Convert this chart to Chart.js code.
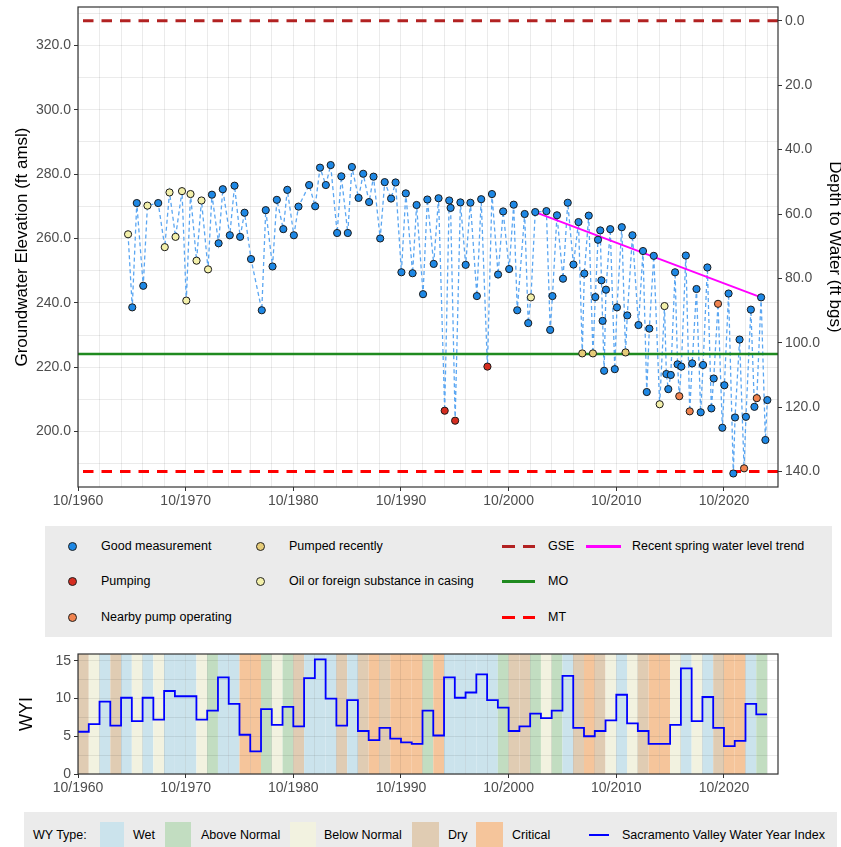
<!DOCTYPE html>
<html><head><meta charset="utf-8">
<script src="https://cdn.jsdelivr.net/npm/chart.js@4.4.1/dist/chart.umd.min.js"></script>
<style>
html,body{margin:0;padding:0;background:#fff;}
#wrap{position:relative;width:841px;height:847px;overflow:hidden;font-family:"Liberation Sans",Arial,Helvetica,sans-serif;color:#000;}
canvas{position:absolute;left:0;}
.box{position:absolute;background:#ebebeb;}
.mk{position:absolute;width:7px;height:7px;border:1px solid #222;border-radius:50%;}
.tx{position:absolute;font-size:12.5px;line-height:14px;white-space:nowrap;transform:translateY(-50%);}
.ln{position:absolute;}
.sw{position:absolute;top:822px;height:25px;}
</style></head><body><div id="wrap">
<canvas id="gw" width="841" height="515" style="top:0;width:841px;height:515px"></canvas>
<canvas id="wyi" width="841" height="165" style="top:640px;width:841px;height:165px"></canvas>

<div class="box" style="left:45px;top:526px;width:787px;height:111px"></div>
<span class="mk" style="left:67.5px;top:541.5px;background:#1e88e5"></span><span class="tx" style="left:101px;top:546px">Good measurement</span>
<span class="mk" style="left:67.5px;top:576.5px;background:#d62d20"></span><span class="tx" style="left:101px;top:581px">Pumping</span>
<span class="mk" style="left:67.5px;top:612.5px;background:#f0834f"></span><span class="tx" style="left:101px;top:617px">Nearby pump operating</span>
<span class="mk" style="left:256px;top:541.5px;background:#e6cc78"></span><span class="tx" style="left:289px;top:546px">Pumped recently</span>
<span class="mk" style="left:256px;top:576.5px;background:#f3f0aa"></span><span class="tx" style="left:289px;top:581px">Oil or foreign substance in casing</span>
<span class="ln" style="left:502px;top:544.5px;width:13px;height:3px;background:#b22222"></span><span class="ln" style="left:523px;top:544.5px;width:12px;height:3px;background:#b22222"></span><span class="tx" style="left:548px;top:546px">GSE</span>
<span class="ln" style="left:502px;top:579.5px;width:33px;height:3px;background:#1f8a1f"></span><span class="tx" style="left:548px;top:581px">MO</span>
<span class="ln" style="left:502px;top:615.5px;width:13px;height:3px;background:#ff0000"></span><span class="ln" style="left:523px;top:615.5px;width:12px;height:3px;background:#ff0000"></span><span class="tx" style="left:548px;top:617px">MT</span>
<span class="ln" style="left:586px;top:544.5px;width:35px;height:3px;background:#ff00ff"></span><span class="tx" style="left:632px;top:546px">Recent spring water level trend</span>

<div class="box" style="left:24px;top:812px;width:813px;height:40px"></div>
<span class="tx" style="left:33px;top:835px">WY Type:</span>
<span class="sw" style="left:100px;width:24px;background:#cbe3ec"></span><span class="tx" style="left:133px;top:835px">Wet</span>
<span class="sw" style="left:165px;width:26px;background:#c2ddc1"></span><span class="tx" style="left:201px;top:835px">Above Normal</span>
<span class="sw" style="left:290px;width:26px;background:#f2f2e0"></span><span class="tx" style="left:324px;top:835px">Below Normal</span>
<span class="sw" style="left:412px;width:27px;background:#e0ccb3"></span><span class="tx" style="left:448px;top:835px">Dry</span>
<span class="sw" style="left:476px;width:27px;background:#f5c59b"></span><span class="tx" style="left:512px;top:835px">Critical</span>
<span class="ln" style="left:589px;top:834px;width:20px;height:2px;background:#0000ff"></span><span class="tx" style="left:622px;top:835px">Sacramento Valley Water Year Index</span>
</div>
<script>
// ---------- DATA ----------
const wlDates = [1965.40,1965.79,1966.21,1966.81,1967.20,1968.20,1968.81,1969.25,1969.81,1970.41,1970.81,1971.20,1971.76,1972.22,1972.83,
1973.19,1973.81,1974.20,1974.85,1975.29,1975.81,1976.22,1976.82,1977.82,1978.19,1978.82,1979.22,1979.82,1980.19,1980.80,1981.23,
1982.22,1982.78,1983.23,1983.77,1984.22,1984.82,1985.21,1985.81,1986.19,1986.81,1987.24,1987.79,1988.20,1988.82,1989.24,1989.83,
1990.25,1990.79,1991.20,1991.83,1992.20,1992.80,1993.20,1993.79,1994.24,1994.81,1995.23,1995.36,1995.78,1996.27,1996.76,1997.20,
1997.80,1998.20,1998.78,1999.20,1999.77,2000.24,2000.80,2001.22,2001.55,2002.24,2002.57,2002.82,2003.22,2004.26,2004.61,2004.82,
2005.24,2005.80,2006.24,2006.77,2007.24,2007.59,2007.78,2008.19,2008.58,2008.80,2009.05,2009.26,2009.37,2009.48,2009.62,2009.79,
2010.19,2010.61,2010.81,2011.26,2011.61,2011.77,2012.25,2012.81,2013.23,2013.58,2013.82,2014.23,2014.78,2015.23,2015.40,2015.58,
2015.81,2016.21,2016.44,2016.60,2016.79,2017.21,2017.57,2017.80,2018.20,2018.59,2018.81,2019.21,2019.58,2019.80,2020.20,2020.60,
2020.79,2021.18,2021.62,2021.78,2022.20,2022.62,2022.79,2023.25,2023.58,2023.80,2024.20,2024.60,2024.78];
const wlElev = [261.3,238.6,271.0,245.3,270.2,271.0,257.3,274.3,260.5,274.7,240.7,273.8,253.1,271.8,250.4,
273.6,258.5,275.3,261.0,276.4,260.5,268.0,253.6,237.7,268.8,251.3,272.0,262.9,275.1,261.0,269.9,
276.6,270.0,282.0,276.6,282.8,261.7,279.3,261.7,282.2,272.6,280.1,271.3,279.2,260.0,277.5,272.4,
277.4,249.5,274.0,249.2,270.4,242.7,272.1,252.1,272.5,206.5,271.8,269.5,203.4,271.2,251.8,271.1,
242.1,272.2,220.2,273.8,248.8,268.4,250.5,270.5,237.7,267.6,233.7,241.7,268.2,268.5,231.6,242.1,
267.2,247.5,271.1,251.9,265.1,224.3,249.1,267.1,224.3,241.8,259.6,262.5,247.0,234.4,218.9,244.1,
262.9,219.4,238.6,263.5,224.6,236.1,261.0,233.1,256.1,212.3,232.0,254.6,208.5,239.0,217.9,213.2,
217.6,249.5,220.9,211.0,220.2,254.7,206.3,221.2,244.3,206.0,220.7,251.0,207.2,216.5,239.7,201.2,
214.4,242.9,187.0,204.4,228.6,188.6,204.6,237.9,207.7,210.4,241.7,197.4,209.8];
const wlQuality = ['oil','good','good','good','oil','good','oil','oil','oil','oil','oil','oil','oil','oil','oil',
'good','good','good','good','good','good','good','good','good','good','good','good','good','good','good','good',
'good','good','good','good','good','good','good','good','good','good','good','good','good','good','good','good',
'good','good','good','good','good','good','good','good','good','pumping','good','good','pumping','good','good','good',
'good','good','pumping','good','good','good','good','good','good','good','good','oil','good','good','good','good',
'good','good','good','good','good','pumped','good','good','pumped','good','good','good','good','good','good','good',
'good','good','good','good','pumped','good','good','good','good','good','good','good','oil','oil','good','good',
'good','good','good','nearby','good','good','nearby','good','good','good','good','good','good','good','nearby','good',
'good','good','good','good','good','nearby','good','good','good','nearby','good','good','good'];
const trendDates = [2003.22, 2024.20];
const trendElev = [268.2, 241.7];
const GSE = 327.6, MO = 224.1, MT = 187.6;

const wyYears = [];
for (let y = 1961; y <= 2024; y++) wyYears.push(y);
const wyIndex = [5.6,6.6,9.6,6.4,10.1,7.0,10.1,7.2,11.0,10.3,10.3,7.2,8.4,12.8,9.3,5.2,3.0,8.6,6.5,8.9,
6.3,12.7,15.2,10.0,6.4,9.8,5.7,4.5,6.1,4.7,4.2,4.0,8.4,5.1,12.8,10.1,10.8,13.2,9.8,8.8,
5.7,6.3,8.0,7.4,8.4,13.0,6.1,5.0,5.7,7.1,10.5,6.7,5.7,4.0,4.0,6.5,14.0,7.0,10.2,6.1,
3.7,4.4,9.3,7.9];
const wyType = ['D','BN','W','D','W','BN','W','BN','W','W','W','BN','AN','W','W','C','C','AN','BN','AN',
'D','W','W','W','D','W','D','C','D','C','C','C','AN','C','W','W','W','W','W','AN',
'D','D','AN','BN','AN','W','D','C','D','BN','W','BN','D','C','C','BN','W','BN','W','D',
'C','C','W','AN'];

const xLabelYears = [1960,1970,1980,1990,2000,2010,2020];   // labels "10/YYYY"
const elevTickValues = [190,200,210,220,230,240,250,260,270,280,290,300,310,320,330];
const elevLabelValues = [200,220,240,260,280,300,320];
const depthTickValues = [0,20,40,60,80,100,120,140];
const wyiTickValues = [0,2.5,5,7.5,10,12.5,15];
const wyiLabelValues = [0,5,10,15];

// ---------- STYLE ----------
const FONT = '"Liberation Sans", Arial, Helvetica, sans-serif';
Chart.defaults.font.family = FONT;
Chart.defaults.color = '#4d4d4d';
const QCOL = {good:'#1e88e5', pumping:'#d62d20', nearby:'#f0834f', pumped:'#e6cc78', oil:'#f3f0aa'};
const WYCOL = {W:'#cbe3ec', AN:'#c2ddc1', BN:'#f2f2e0', D:'#e0ccb3', C:'#f5c59b'};
const GRID = 'rgba(0,0,0,0.08)';
const X_MIN = 1960.75, X_MAX = 2025.77;
const Y_MIN = 182.8, Y_MAX = 331.9;

const xGridValues = [];
for (let v = X_MIN; v <= 2024.8; v += 2) xGridValues.push(Math.round(v * 100) / 100);
function xLabel(v) {
  const yr = Math.round(v - 0.75);
  return (Math.abs(v - 0.75 - yr) < 0.01 && xLabelYears.includes(yr)) ? '10/' + yr : '';
}
const tickCol = fn => c => (c.tick && fn(c.tick.value) !== '') ? '#333333' : 'rgba(0,0,0,0)';
const noPad = s => { s.paddingTop = 0; s.paddingBottom = 0; s.paddingLeft = 0; s.paddingRight = 0; };

function xScale(h) {
  return {
    type: 'linear', position: 'bottom', min: X_MIN, max: X_MAX,
    afterBuildTicks: s => { s.ticks = xGridValues.map(v => ({value: v})); },
    afterFit: s => { s.height = h; noPad(s); },
    ticks: {autoSkip: false, maxRotation: 0, minRotation: 0, padding: 2, color: '#4d4d4d', font: {size: 14}, callback: v => xLabel(v)},
    grid: {color: GRID, lineWidth: 1, tickLength: 4, tickWidth: 1, tickColor: tickCol(xLabel)},
    border: {display: false}
  };
}

const panelBorder = {
  id: 'panelBorder',
  afterDatasetsDraw(chart) {
    const {ctx, chartArea: a} = chart;
    ctx.save(); ctx.strokeStyle = '#333333'; ctx.lineWidth = 1.2;
    ctx.strokeRect(a.left, a.top, a.right - a.left, a.bottom - a.top);
    ctx.restore();
  }
};
const wyBands = {
  id: 'wyBands',
  beforeDraw(chart) {
    const {ctx, chartArea: a, scales: {x}} = chart;
    ctx.save();
    wyYears.forEach((yr, i) => {
      const x0 = x.getPixelForValue(yr - 0.25), x1 = x.getPixelForValue(yr + 0.75);
      ctx.fillStyle = WYCOL[wyType[i]];
      ctx.fillRect(x0, a.top, x1 - x0, a.bottom - a.top);
    });
    ctx.restore();
  }
};

// ---------- GROUNDWATER CHART ----------
const wlPoints = wlDates.map((d, i) => ({x: d, y: wlElev[i]}));
const hLine = v => [{x: X_MIN, y: v}, {x: X_MAX, y: v}];
const elevLabel = v => elevLabelValues.includes(v) ? v.toFixed(1) : '';

new Chart(document.getElementById('gw'), {
  type: 'scatter',
  data: {datasets: [
    {label: 'points', data: wlPoints, showLine: false, pointRadius: 3.6, pointBorderWidth: 1,
     pointBorderColor: '#1a1a1a', pointBackgroundColor: wlQuality.map(q => QCOL[q]), order: 0},
    {label: 'trend', data: trendDates.map((d, i) => ({x: d, y: trendElev[i]})), showLine: true,
     borderColor: '#ff00ff', borderWidth: 2, pointRadius: 0, order: 1},
    {label: 'GSE', data: hLine(GSE), showLine: true, borderColor: '#b22222', borderWidth: 3,
     borderDash: [10.5, 8], borderDashOffset: 13.5, pointRadius: 0, order: 2},
    {label: 'MO', data: hLine(MO), showLine: true, borderColor: '#1f8a1f', borderWidth: 2.5, pointRadius: 0, order: 2},
    {label: 'MT', data: hLine(MT), showLine: true, borderColor: '#ff0000', borderWidth: 3,
     borderDash: [10.5, 8], borderDashOffset: 13.5, pointRadius: 0, order: 2},
    {label: 'conn', data: wlPoints, showLine: true, borderColor: '#5aa6f2', borderWidth: 1.3,
     borderDash: [4, 3], pointRadius: 0, order: 3}
  ]},
  options: {
    responsive: false, animation: false, devicePixelRatio: 1, events: [],
    layout: {padding: {top: 7, left: 0, right: 0, bottom: 0}},
    plugins: {legend: {display: false}, tooltip: {enabled: false}},
    scales: {
      x: xScale(28),
      y: {
        type: 'linear', position: 'left', min: Y_MIN, max: Y_MAX,
        afterBuildTicks: s => { s.ticks = elevTickValues.map(v => ({value: v})); },
        afterFit: s => { s.width = 78; noPad(s); },
        ticks: {padding: 3, color: '#4d4d4d', font: {size: 14}, callback: v => elevLabel(v)},
        grid: {color: GRID, lineWidth: 1, tickLength: 4, tickWidth: 1, tickColor: tickCol(elevLabel)},
        border: {display: false},
        title: {display: true, text: 'Groundwater Elevation (ft amsl)', color: '#000', font: {size: 17, lineHeight: 0.8}, padding: {top: 15.2, bottom: 0}}
      },
      y2: {
        type: 'linear', position: 'right', reverse: true, min: GSE - Y_MAX, max: GSE - Y_MIN,
        afterBuildTicks: s => { s.ticks = depthTickValues.map(v => ({value: v})); },
        afterFit: s => { s.width = 63; noPad(s); },
        ticks: {padding: 3, color: '#4d4d4d', font: {size: 14}, callback: v => v.toFixed(1)},
        grid: {drawOnChartArea: false, tickLength: 4, tickWidth: 1, tickColor: '#333333', color: GRID},
        border: {display: false},
        title: {display: true, text: 'Depth to Water (ft bgs)', color: '#000', font: {size: 17, lineHeight: 0.8}, padding: {top: 0, bottom: 0}}
      }
    }
  },
  plugins: [panelBorder]
});

// ---------- WYI CHART ----------
const wyiLine = [];
wyYears.forEach((yr, i) => { wyiLine.push({x: yr - 0.25, y: wyIndex[i]}, {x: yr + 0.75, y: wyIndex[i]}); });
const wyiLabel = v => wyiLabelValues.includes(v) ? String(v) : '';

new Chart(document.getElementById('wyi'), {
  type: 'scatter',
  data: {datasets: [
    {label: 'Sacramento Valley Water Year Index', data: wyiLine, showLine: true, borderColor: '#0000ff',
     borderWidth: 1.8, borderJoinStyle: 'miter', pointRadius: 0}
  ]},
  options: {
    responsive: false, animation: false, devicePixelRatio: 1, events: [],
    layout: {padding: {top: 14, left: 0, right: 63, bottom: 0}},
    plugins: {legend: {display: false}, tooltip: {enabled: false}},
    scales: {
      x: xScale(31),
      y: {
        type: 'linear', position: 'left', min: 0, max: 15.9,
        afterBuildTicks: s => { s.ticks = wyiTickValues.map(v => ({value: v})); },
        afterFit: s => { s.width = 78; noPad(s); },
        ticks: {padding: 3, color: '#4d4d4d', font: {size: 14}, callback: v => wyiLabel(v)},
        grid: {color: GRID, lineWidth: 1, tickLength: 4, tickWidth: 1, tickColor: tickCol(wyiLabel)},
        border: {display: false},
        title: {display: true, text: 'WYI', color: '#000', font: {size: 18, lineHeight: 0.8}, padding: {top: 19.8, bottom: 0}}
      }
    }
  },
  plugins: [wyBands, panelBorder]
});
</script>
</body></html>
